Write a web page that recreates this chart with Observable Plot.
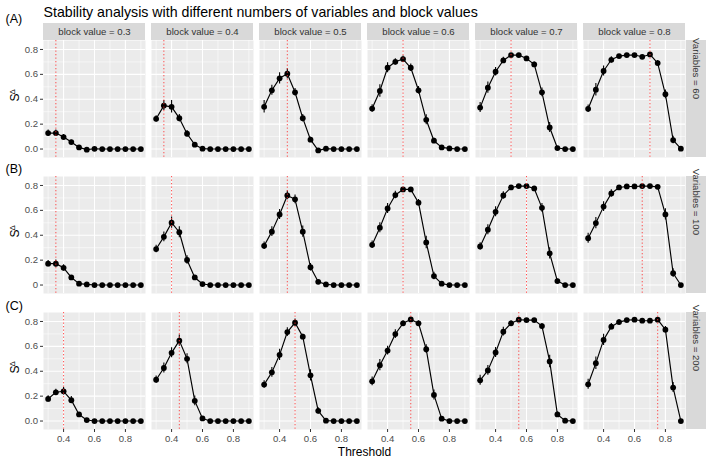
<!DOCTYPE html>
<html><head><meta charset="utf-8">
<script src="https://cdn.jsdelivr.net/npm/d3@7"></script>
<script src="https://cdn.jsdelivr.net/npm/@observablehq/plot@0.6"></script>
<style>body{margin:0;background:#fff;} #chart svg{display:block}</style>
</head><body><div id="chart"></div>
<script>
const thresholds = [0.3,0.35,0.4,0.45,0.5,0.55,0.6,0.65,0.7,0.75,0.8,0.85,0.9];
const blockValues = [0.3,0.4,0.5,0.6,0.7,0.8];
const variableCounts = [60,100,200];
const rowTags = ["(A)","(B)","(C)"];
const xTicks = [0.4,0.6,0.8];
const xMinor = [0.3,0.5,0.7,0.9];
const yTicks = [0,0.2,0.4,0.6,0.8];
const yMinor = [0.1,0.3,0.5,0.7];
const yTickLabelsA = ["0.0","0.2","0.4","0.6","0.8"];
const yTickLabelsB = ["0","0.2","0.4","0.6","0.8"];
const yTickLabelsC = ["0.0","0.2","0.4","0.6","0.8"];

// S^Δ values, one array per block value (0.3 ... 0.8)
const stab60 = [
  [0.128,0.128,0.096,0.056,0.013,-0.005,0.002,0,0,0,0,0,0],
  [0.243,0.349,0.339,0.248,0.123,0.035,0.003,0,0,0,0,0,0],
  [0.339,0.472,0.568,0.605,0.456,0.248,0.075,-0.011,0.003,0,0,0,0],
  [0.325,0.467,0.653,0.701,0.723,0.653,0.472,0.235,0.067,0.013,0.005,0,0],
  [0.333,0.493,0.621,0.712,0.755,0.755,0.728,0.68,0.456,0.173,0.008,0,0],
  [0.323,0.477,0.627,0.717,0.747,0.755,0.755,0.741,0.76,0.691,0.44,0.072,0.003]
];
const stab100 = [
  [0.172,0.172,0.138,0.061,0.011,0.005,0,0,0,0,0,0,0],
  [0.289,0.387,0.501,0.424,0.201,0.061,0.008,0,0,0,0,0,0],
  [0.315,0.429,0.567,0.72,0.689,0.429,0.143,0.026,0.005,0,0,0,0],
  [0.323,0.461,0.615,0.723,0.768,0.768,0.662,0.342,0.072,0.011,0,0,0],
  [0.31,0.445,0.588,0.72,0.784,0.795,0.795,0.776,0.62,0.254,0.032,0,0],
  [0.376,0.498,0.63,0.736,0.784,0.792,0.792,0.795,0.795,0.789,0.567,0.095,0]
];
const stab200 = [
  [0.178,0.231,0.239,0.168,0.053,0.008,0,0,0,0,0,0,0],
  [0.332,0.426,0.548,0.646,0.5,0.162,0.021,0,0,0,0,0,0],
  [0.293,0.391,0.532,0.715,0.79,0.678,0.367,0.082,0.003,0,0,0,0],
  [0.319,0.449,0.566,0.699,0.785,0.816,0.785,0.577,0.21,0.019,0,0,0],
  [0.327,0.407,0.551,0.718,0.785,0.814,0.811,0.811,0.763,0.479,0.053,0.003,0],
  [0.295,0.465,0.652,0.758,0.795,0.811,0.814,0.806,0.806,0.814,0.734,0.269,0]
];
// error bar half-widths
const err60 = [
  [0.025,0.025,0.02,0.015,0.01,0.005,0,0,0,0,0,0,0],
  [0.025,0.04,0.05,0.03,0.025,0.015,0.005,0,0,0,0,0,0],
  [0.05,0.04,0.045,0.04,0.03,0.03,0.02,0.01,0.005,0,0,0,0],
  [0.03,0.05,0.04,0.025,0.025,0.03,0.03,0.04,0.02,0.01,0.005,0,0],
  [0.04,0.045,0.035,0.025,0.01,0.01,0.01,0.02,0.035,0.04,0.01,0,0],
  [0.03,0.05,0.04,0.025,0.01,0.01,0.01,0.01,0.01,0.02,0.035,0.03,0.005]
];
const err100 = [
  [0.025,0.03,0.025,0.015,0.01,0.005,0,0,0,0,0,0,0],
  [0.03,0.04,0.045,0.045,0.035,0.015,0.005,0,0,0,0,0,0],
  [0.03,0.04,0.04,0.035,0.035,0.045,0.03,0.01,0.005,0,0,0,0],
  [0.03,0.04,0.04,0.03,0.015,0.01,0.025,0.05,0.03,0.01,0.005,0,0],
  [0.03,0.04,0.04,0.03,0.015,0.01,0.01,0.01,0.035,0.045,0.015,0,0],
  [0.04,0.045,0.04,0.03,0.01,0.01,0.01,0.01,0.01,0.01,0.045,0.035,0.005]
];
const err200 = [
  [0.025,0.025,0.03,0.03,0.015,0.005,0,0,0,0,0,0,0],
  [0.03,0.04,0.04,0.045,0.04,0.04,0.015,0,0,0,0,0,0],
  [0.03,0.04,0.045,0.035,0.03,0.02,0.045,0.025,0.005,0,0,0,0],
  [0.035,0.045,0.035,0.035,0.02,0.01,0.02,0.035,0.04,0.01,0,0,0],
  [0.04,0.04,0.04,0.035,0.02,0.01,0.01,0.01,0.02,0.05,0.02,0.005,0],
  [0.04,0.05,0.045,0.025,0.02,0.01,0.01,0.01,0.01,0.01,0.025,0.04,0.005]
];
// optimal threshold (red dotted line)
const opt60 = [0.35,0.35,0.45,0.5,0.5,0.7];
const opt100 = [0.35,0.4,0.45,0.5,0.6,0.65];
const opt200 = [0.4,0.45,0.5,0.55,0.55,0.75];

const stabByRow = [stab60, stab100, stab200];
const errByRow = [err60, err100, err200];
const optByRow = [opt60, opt100, opt200];
const yLabelsByRow = [yTickLabelsA, yTickLabelsB, yTickLabelsC];

const points = [];
const optimal = [];
const yTickRows = [];
variableCounts.forEach((v, r) => {
  blockValues.forEach((b, c) => {
    thresholds.forEach((t, k) => {
      points.push({variables: v, block: b, threshold: t, s: stabByRow[r][c][k], e: errByRow[r][c][k]});
    });
    optimal.push({variables: v, block: b, t: optByRow[r][c]});
  });
  yTicks.forEach((t, i) => yTickRows.push({variables: v, block: blockValues[0], value: t, label: yLabelsByRow[r][i]}));
});

const xDomain = [0.27, 0.93];
const yDomain = [-0.068, 0.872];
const font = "'Liberation Sans', Arial, Helvetica, sans-serif";
const firstCol = () => blockValues[0];
const lastCol = () => blockValues[blockValues.length - 1];

const tagMarks = rowTags.map((tag, r) => Plot.text([tag], {
  fx: firstCol, fy: () => variableCounts[r], text: d => d,
  frameAnchor: "top-left", lineAnchor: "middle", textAnchor: "start", dx: -38, dy: [-21.5, -7.5, -7][r],
  fontSize: 12.5, fill: "black"
}));

const chart = Plot.plot({
  width: 709, height: 459,
  marginTop: 38.5, marginRight: 21, marginBottom: 29, marginLeft: 40,
  style: {fontFamily: font, fontSize: "9.6px", background: "#fff", color: "#4D4D4D", overflow: "visible"},
  fx: {domain: blockValues, paddingInner: 0.055, paddingOuter: 0, axis: null},
  fy: {domain: variableCounts, paddingInner: 0.1423, paddingOuter: 0, axis: null},
  x: {domain: xDomain},
  y: {domain: yDomain, axis: null},
  marks: [
    Plot.frame({fill: "#EBEBEB", stroke: "none"}),
    Plot.gridX(xMinor, {stroke: "white", strokeOpacity: 1, strokeWidth: 0.55}),
    Plot.gridY(yMinor, {stroke: "white", strokeOpacity: 1, strokeWidth: 0.55}),
    Plot.gridX(xTicks, {stroke: "white", strokeOpacity: 1, strokeWidth: 1.1}),
    Plot.gridY(yTicks, {stroke: "white", strokeOpacity: 1, strokeWidth: 1.1}),
    // column strips
    Plot.rect(blockValues, {fx: d => d, fy: () => variableCounts[0], x1: xDomain[0], x2: xDomain[1], y1: yDomain[1], y2: yDomain[1], insetTop: -17, fill: "#D9D9D9"}),
    Plot.text(blockValues, {fx: d => d, fy: () => variableCounts[0], text: d => `block value = ${d}`, frameAnchor: "top", lineAnchor: "middle", dy: -8.5, fill: "#333333", fontSize: 9.6}),
    // row strips
    Plot.rect(variableCounts, {fx: lastCol, fy: d => d, x1: xDomain[1], x2: xDomain[1], y1: yDomain[0], y2: yDomain[1], insetLeft: 1, insetRight: -21, fill: "#D9D9D9"}),
    Plot.text(variableCounts, {fx: lastCol, fy: d => d, text: d => `Variables = ${d}`, frameAnchor: "right", lineAnchor: "middle", dx: 11, rotate: 90, fill: "#333333", fontSize: 9.6}),
    // data
    Plot.line(points, {x: "threshold", y: "s", fx: "block", fy: "variables", stroke: "black", strokeWidth: 1.15}),
    Plot.ruleX(points, {x: "threshold", y1: d => d.s - d.e, y2: d => d.s + d.e, fx: "block", fy: "variables", stroke: "black", strokeWidth: 1.1}),
    Plot.dot(points, {x: "threshold", y: "s", fx: "block", fy: "variables", r: 2.9, fill: "black", stroke: "none"}),
    Plot.ruleX(optimal, {x: "t", fx: "block", fy: "variables", stroke: "#FF3030", strokeOpacity: 0.85, strokeWidth: 1, strokeDasharray: "1.3,2.2"}),
    // y axis (left column)
    Plot.text(yTickRows, {fx: "block", fy: "variables", y: "value", text: "label", frameAnchor: "left", textAnchor: "end", dx: -5.5, fill: "#4D4D4D", fontSize: 9.6}),
    Plot.ruleY(yTickRows, {fx: "block", fy: "variables", y: "value", x1: xDomain[0], x2: xDomain[0], insetLeft: -3, stroke: "#333333", strokeWidth: 1}),
    // y title S^Δ
    Plot.text(variableCounts, {fx: firstCol, fy: d => d, text: () => "S", frameAnchor: "left", lineAnchor: "middle", dx: -28, dy: 2.5, rotate: -90, fontSize: 12, fill: "black"}),
    Plot.text(variableCounts, {fx: firstCol, fy: d => d, text: () => "Δ", frameAnchor: "left", lineAnchor: "middle", dx: -31, dy: -4.5, rotate: -90, fontSize: 8, fill: "black"}),
    // x axis (bottom row)
    Plot.axisX(xTicks, {tickSize: 3, tickPadding: 3, tickFormat: ".1f", stroke: "#333333", fill: "#4D4D4D", fontSize: 9.6, label: null}),
    ...tagMarks,
    Plot.text(["Stability analysis with different numbers of variables and block values"], {facet: "super", text: d => d, frameAnchor: "top-left", lineAnchor: "middle", textAnchor: "start", dy: -28.5, fontSize: 14.2, fill: "black"}),
    Plot.text(["Threshold"], {facet: "super", text: d => d, frameAnchor: "bottom", lineAnchor: "middle", dy: 22.5, fontSize: 12, fill: "black"})
  ]
});
document.getElementById("chart").append(chart);
</script></body></html>
